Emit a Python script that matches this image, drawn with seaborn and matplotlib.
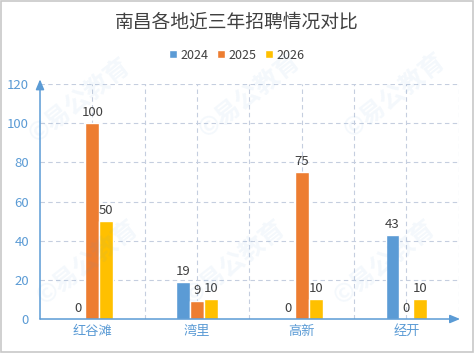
import numpy as np
import pandas as pd
import matplotlib
matplotlib.use('Agg')
import matplotlib.pyplot as plt
from matplotlib.patches import Rectangle
import seaborn as sns

# 数据
areas = ['红谷滩', '湾里', '高新', '经开']
years = ['2024', '2025', '2026']
v2024 = [0, 19, 0, 43]
v2025 = [100, 9, 75, 0]
v2026 = [50, 10, 10, 10]
yticks = [0, 20, 40, 60, 80, 100, 120]

colors = ['#5B9BD5', '#ED7D31', '#FFC000']
axis_c = '#5B9BD5'
grid_c = '#C5CEDF'
text_c = '#404040'

df = pd.DataFrame({
    'area': areas * 3,
    'year': [y for y in years for _ in areas],
    'count': v2024 + v2025 + v2026,
})

sns.set_style('white')
plt.rcParams['font.family'] = ['Noto Sans CJK SC', 'DejaVu Sans']

fig = plt.figure(figsize=(4.74, 3.53), dpi=100)
ax = fig.add_axes([0.0844, 0.0963, 0.8836, 0.6657])

sns.barplot(data=df, x='area', y='count', hue='year', palette=colors,
            width=0.4, gap=0, errorbar=None, saturation=1, ax=ax)

# 数据标签
for cont in ax.containers:
    ax.bar_label(cont, padding=3, fontsize=9.5, color=text_c)

ax.set_xlim(-0.5, 3.5)
ax.set_ylim(0, 120)
ax.set_yticks(yticks)
ax.grid(False)
gl = dict(color=grid_c, ls=(0, (4, 3)), lw=0.8, zorder=0)
# 竖向虚线：类别中心和分界
for xv in np.arange(-0.5, 3.6, 0.5)[1:]:
    ax.axvline(xv, **gl)
for yv in yticks[1:]:
    ax.axhline(yv, **gl)
ax.set_axisbelow(True)
ax.tick_params(which='both', length=0)
ax.tick_params(axis='y', colors=axis_c, labelsize=9.5, pad=8)
ax.tick_params(axis='x', colors=axis_c, labelsize=9.5, pad=4)
ax.set_xlabel('')
ax.set_ylabel('')
for s in ax.spines.values():
    s.set_visible(False)

# 坐标轴箭头
ax.annotate('', xy=(0, 1.02), xytext=(0, 0), xycoords='axes fraction',
            arrowprops=dict(arrowstyle='-|>,head_length=0.6,head_width=0.25',
                            color=axis_c, lw=1.1, shrinkA=0, shrinkB=0))
ax.annotate('', xy=(1.003, 0), xytext=(0, 0), xycoords='axes fraction',
            arrowprops=dict(arrowstyle='-|>,head_length=0.6,head_width=0.25',
                            color=axis_c, lw=1.1, shrinkA=0, shrinkB=0))

# 图例
handles, labels = ax.get_legend_handles_labels()
ax.legend(handles, labels, loc='center', bbox_to_anchor=(0.5, 0.844),
          bbox_transform=fig.transFigure, ncol=3, frameon=False,
          handlelength=0.6, handleheight=0.6, handletextpad=0.3,
          columnspacing=0.7, fontsize=9, labelcolor=text_c)

fig.text(0.5, 0.938, '南昌各地近三年招聘情况对比', ha='center', va='center',
         fontsize=13.5, color=text_c)

# 水印
for (wx, wy) in [(80, 100), (250, 95), (395, 95), (88, 262), (235, 262), (385, 262)]:
    fig.text(wx / 474, 1 - wy / 353, '©易公教育', ha='center', va='center',
             fontsize=18, fontweight='bold', rotation=38, color='#5B9BD5',
             alpha=0.07)

fig.patches.append(Rectangle((0.002, 0.003), 0.995, 0.994, transform=fig.transFigure,
                             fill=False, ec='#C8C8C8', lw=1.2))

fig.savefig('out.png', dpi=100)
